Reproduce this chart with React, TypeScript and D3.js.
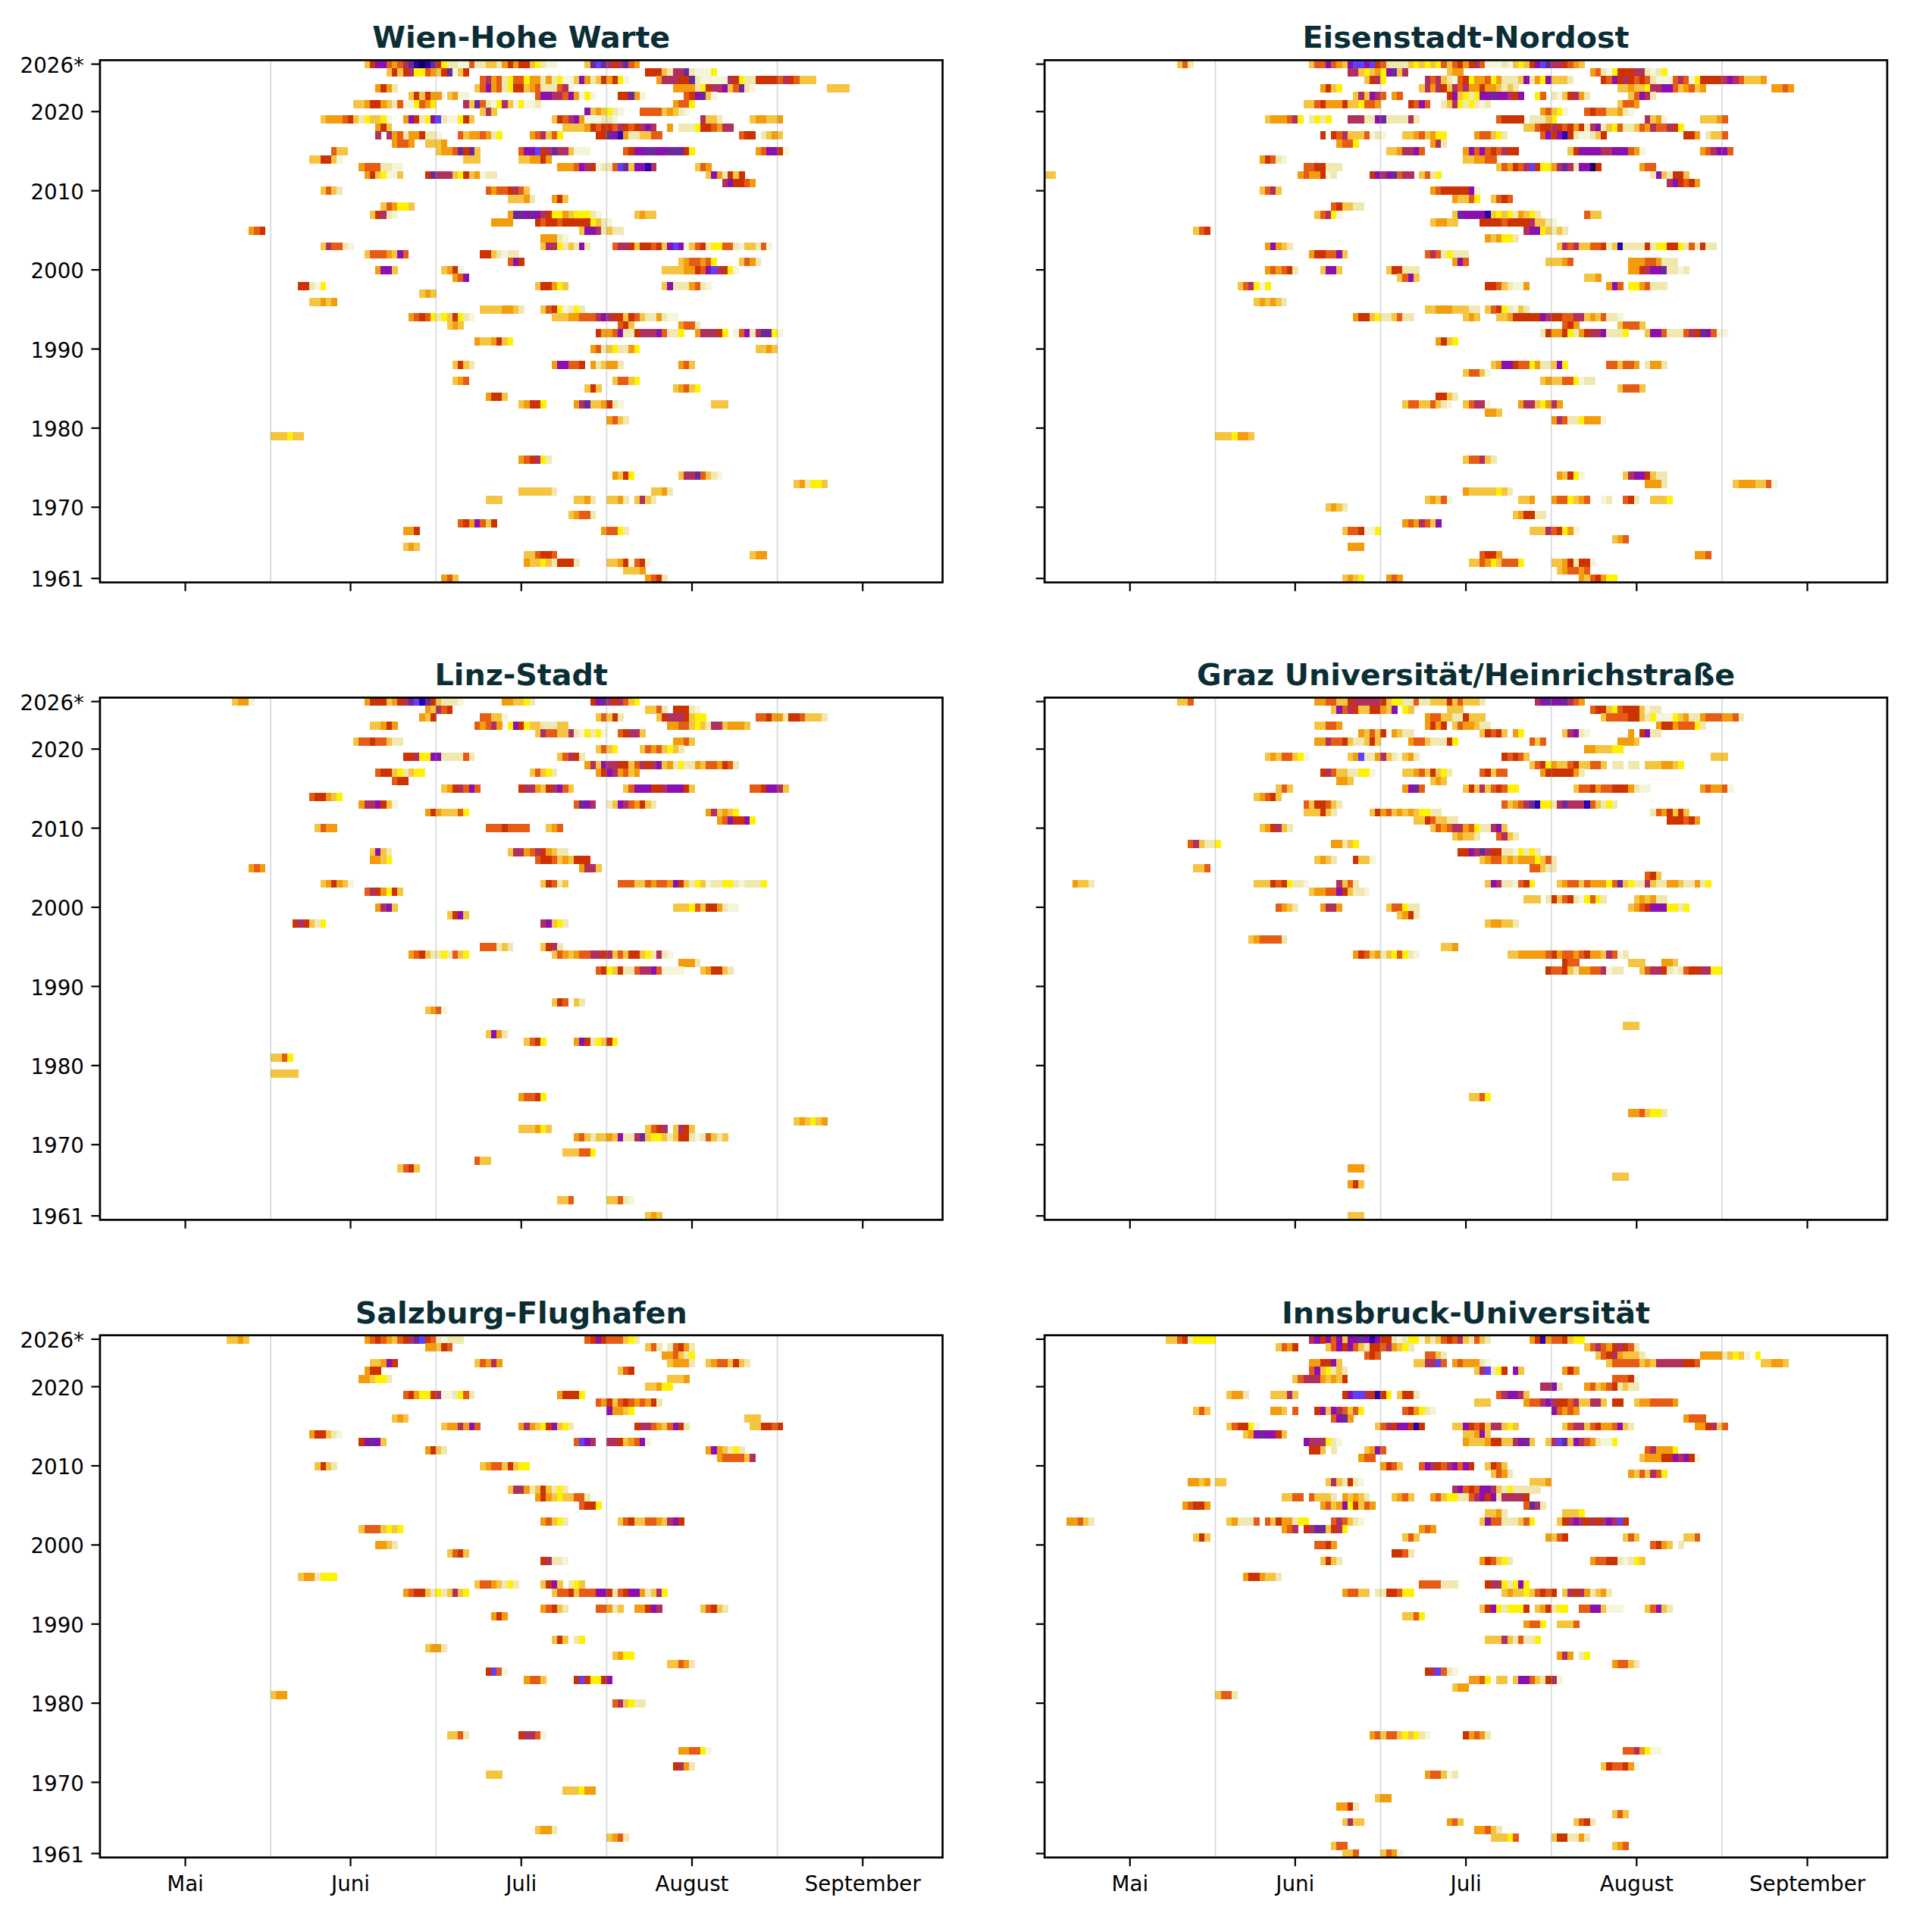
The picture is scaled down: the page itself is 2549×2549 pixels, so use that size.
import React from 'react';
import * as d3 from 'd3';

// one row of a station: [year, first day column, level per day, '.' = no cell]
type Run = [number, number, string];

const levelColors = ['#f5f5dc', '#f0e8b0', '#fff200', '#f5c542', '#f39c0e', '#e65c14', '#cc3300', '#b03060', '#8a10b0', '#6a2a9a', '#6040ff', '#2800b0', '#100060'];

const monthLabels = ['Mai', 'Juni', 'Juli', 'August', 'September'];
const monthTicks = [0, 30, 61, 92, 123];
const midMonthLines = [15.5, 45.5, 76.5, 107.5];
const yearTicks = [2026, 2020, 2010, 2000, 1990, 1980, 1970, 1961];

const wien: Run[] = [
  [2026, 33, '368854579bcb96211005113314646632100.....39a9767954'],
  [2025, 37, '363672254369036'], [2025, 84, '6663177910002'],
  [2024, 54, '574512552441412003841364620'], [2024, 86, '47776691000007621166665765333'],
  [2023, 35, '4641'], [2023, 53, '358451266345111570'], [2023, 89, '444412677835910'], [2023, 117, '3333'],
  [2022, 41, '363644.3400'], [2022, 64, '58877584020'], [2022, 79, '66940'], [2022, 91, '568930'],
  [2021, 31, '334664315002542'], [2021, 51, '73951027302001'], [2021, 89, '4552'],
  [2020, 54, '373'], [2020, 73, '8343210'], [2020, 83, '555534310'],
  [2019, 25, '3444563123320'], [2019, 40, '486128a100263'], [2019, 67, '365784000110'], [2019, 94, '7331'], [2019, 103, '344334'],
  [2018, 35, '463'], [2018, 69, '33334656657656787'], [2018, 88, '4.1112665477'],
  [2017, 35, '7.7451446110'], [2017, 50, '53445412'], [2017, 63, '457352'], [2017, 75, '6698b4113355'], [2017, 101, '566'], [2017, 105, '1343'],
  [2016, 38, '4554'], [2016, 44, '3334'],
  [2015, 27, '533'], [2015, 46, '34459693'], [2015, 61, '588a679773000'], [2015, 80, '5688998899962'], [2015, 104, '458860'],
  [2014, 23, '336630'], [2014, 51, '333'], [2014, 61, '334464'],
  [2013, 32, '45551100'], [2013, 68, '44458760115a9388b7'], [2013, 93, '354'],
  [2012, 33, '4632003'], [2012, 44, '6977732634011'], [2012, 95, '3841636'],
  [2011, 98, '786654'],
  [2010, 25, '3531'], [2010, 55, '54556753'],
  [2009, 59, '33341'], [2009, 67, '463'],
  [2008, 36, '354223'],
  [2007, 34, '36710'], [2007, 59, '49989876224322210'], [2007, 82, '3433'],
  [2006, 56, '4444'], [2006, 64, '65665666662310'],
  [2005, 12, '456'], [2005, 72, '38871311'],
  [2004, 65, '44410'],
  [2003, 25, '375510'], [2003, 65, '377213181'], [2003, 78, '57763665638a80356122551033150'],
  [2002, 33, '35554385'], [2002, 54, '6631011'],
  [2001, 59, '586'], [2001, 90, '3455452'], [2001, 101, '3541'],
  [2000, 35, '4883'], [2000, 47, '3460'], [2000, 87, '333344658a7620'],
  [1999, 49, '458'],
  [1998, 21, '66102'], [1998, 64, '366423'], [1998, 87, '381114510'],
  [1997, 43, '343'],
  [1996, 23, '33434'],
  [1995, 54, '33334431'], [1995, 65, '35620121'],
  [1994, 41, '456521236210'], [1994, 67, '33344555787663653114100'],
  [1993, 48, '343'], [1993, 79, '563'], [1993, 90, '4551'],
  [1992, 75, '6445811677785112'], [1992, 93, '477762.058179920'],
  [1991, 53, '4334632'],
  [1990, 74, '451321142'], [1990, 104, '3343'],
  [1988, 49, '3631'], [1988, 67, '488556'], [1988, 74, '413441'], [1988, 90, '453'],
  [1986, 49, '345'], [1986, 78, '35532'],
  [1985, 73, '363'], [1985, 89, '34532'],
  [1984, 55, '4663'],
  [1983, 61, '34662'], [1983, 71, '479334610'], [1983, 96, '333'],
  [1981, 77, '4531'],
  [1979, 16, '333233'],
  [1976, 61, '456721'],
  [1974, 78, '4362'], [1974, 90, '37795310'],
  [1973, 111, '341223'],
  [1972, 61, '3333331'], [1972, 85, '3341'],
  [1971, 55, '333'], [1971, 71, '3341'], [1971, 77, '3341'], [1971, 82, '3731'],
  [1969, 70, '34551'],
  [1968, 50, '5648536'],
  [1967, 40, '446'], [1967, 76, '45521'],
  [1965, 40, '343'],
  [1964, 62, '335665'], [1964, 103, '344'],
  [1963, 62, '4332316661'], [1963, 77, '33460560'],
  [1962, 80, '3334'],
  [1961, 47, '453'], [1961, 84, '4561'],
];

const eisenstadt: Run[] = [
  [2026, 9, '351'], [2026, 33, '35585438aa8a651111323232535646750001032368a9776543'],
  [2025, 40, '77323428937'], [2025, 58, '344'], [2025, 84, '45102666771012'],
  [2024, 43, '3672'], [2024, 54, '757310562445241113814283331'], [2024, 86, '658676565100057502666678753334'],
  [2023, 35, '4632'], [2023, 53, '374763757446443131'], [2023, 89, '3343327788534534'], [2023, 117, '4454'],
  [2022, 41, '373875'], [2022, 48, '45'], [2022, 58, '68321288988768..25.1036741'], [2022, 91, '35871'],
  [2021, 32, '33564446332554'], [2021, 51, '6585..137212101'], [2021, 89, '3554'],
  [2020, 75, '45320'], [2020, 83, '565533410'],
  [2019, 25, '3444572.1212'], [2019, 40, '7771189111171'], [2019, 67, '56666.11132'], [2019, 94, '7340'], [2019, 104, '33345'],
  [2018, 72, '33566765646178132511354755762'],
  [2017, 35, '6.6573335'], [2017, 44, '010'], [2017, 50, '33453422'], [2017, 63, '455321'], [2017, 75, '5868b6100136'], [2017, 101, '664'], [2017, 105, '1335'],
  [2016, 38, '4552'], [2016, 55, '471'],
  [2015, 47, '3347785'], [2015, 61, '4858565766'], [2015, 80, '36888877888540'], [2015, 104, '457885'],
  [2014, 24, '46510'], [2014, 61, '334455'],
  [2013, 32, '5566111'], [2013, 67, '354657a6224797188c6'], [2013, 93, '455'],
  [2012, -15, '33'], [2012, 31, '4544601'], [2012, 44, '68789577.3512'], [2012, 95, '1831663'],
  [2011, 98, '786564'],
  [2010, 24, '3573'], [2010, 55, '456666680'],
  [2009, 59, '43352'], [2009, 66, '3565'],
  [2008, 37, '563311'],
  [2007, 34, '35720'], [2007, 59, '398888b323214321'], [2007, 83, '533'],
  [2006, 55, '34433'], [2006, 64, '66665666673310'],
  [2005, 12, '356'], [2005, 72, '78823131'],
  [2004, 65, '434221'],
  [2003, 25, '48431'], [2003, 78, '37573355613b11116122662151611'],
  [2002, 33, '4665583'], [2002, 54, '57512111'],
  [2001, 59, '485'], [2001, 76, '33345'], [2001, 91, '444554111'],
  [2000, 25, '454561'], [2000, 35, '3883'], [2000, 47, '366111'], [2000, 91, '44678891101'],
  [1999, 49, '3583'], [1999, 83, '334'],
  [1998, 20, '357202'], [1998, 65, '66531004'], [1998, 87, '485.2245111'],
  [1996, 23, '343431'],
  [1995, 54, '3344433311'], [1995, 65, '35621031'],
  [1994, 41, '46632113511'], [1994, 61, '343'], [1994, 67, '33466666876655773435110'],
  [1993, 79, '564'], [1993, 89, '35553'],
  [1992, 75, '1644621467781112'], [1992, 94, '388511157698500'],
  [1991, 56, '4632'],
  [1988, 66, '34886552411382'], [1988, 87, '553554'], [1988, 94, '1441'],
  [1987, 61, '35530'],
  [1986, 75, '3433552011'],
  [1985, 89, '35553'],
  [1984, 56, '6631'],
  [1983, 50, '355335310'], [1983, 61, '35770'], [1983, 71, '47732474'],
  [1982, 65, '443'],
  [1981, 77, '4751124440'],
  [1979, 16, '3332443'],
  [1976, 61, '355731'],
  [1974, 78, '43620'], [1974, 90, '37886311'],
  [1973, 94, '4441'], [1973, 110, '34443350'],
  [1972, 61, '433333231'],
  [1971, 54, '34350'], [1971, 71, '334'], [1971, 77, '4552345'], [1971, 86, '01'], [1971, 90, '561'], [1971, 95, '3332'],
  [1970, 36, '3431'],
  [1969, 70, '346611'],
  [1968, 50, '4547538'],
  [1967, 39, '3556002'], [1967, 73, '333756240'],
  [1966, 88, '345'],
  [1965, 40, '444'],
  [1964, 64, '5664'], [1964, 103, '445'],
  [1963, 62, '3354235552'], [1963, 77, '33461660'],
  [1962, 78, '345545'],
  [1961, 39, '3432'], [1961, 47, '454'], [1961, 82, '4356422'],
];

const linz: Run[] = [
  [2026, 9, '3440'], [2026, 33, '466634679ab9631110'], [2026, 58, '443321'], [2026, 74, '689767532'],
  [2025, 44, '43756'], [2025, 84, '3351'], [2025, 89, '66610'],
  [2024, 43, '436'], [2024, 54, '55330'], [2024, 75, '35361'], [2024, 86, '367776322'], [2024, 104, '5564416653331'],
  [2023, 34, '33464'], [2023, 53, '54574.28623311133'], [2023, 88, '445532317734443'],
  [2022, 64, '3755337102120'], [2022, 79, '56773'],
  [2021, 31, '355655311'], [2021, 89, '4453'],
  [2020, 75, '3532'], [2020, 83, '35453231'],
  [2019, 40, '6672288111151'], [2019, 68, '35761'],
  [2018, 73, '4738776635767834121143554651'],
  [2017, 35, '566321322'], [2017, 63, '35321'], [2017, 75, '46874534'],
  [2016, 38, '566'],
  [2015, 47, '3467585'], [2015, 61, '6774367853'], [2015, 80, '3588866788863'], [2015, 103, '5568873'],
  [2014, 23, '566432'],
  [2013, 32, '4778630'], [2013, 71, '5987'], [2013, 77, '138754631'],
  [2012, 44, '46433352'], [2012, 95, '473432'],
  [2011, 97, '4586682'],
  [2010, 24, '3544'], [2010, 55, '55565555'], [2010, 66, '345'],
  [2007, 34, '3831'], [2007, 59, '37745764311'],
  [2006, 34, '4432'], [2006, 64, '5665343666'],
  [2005, 12, '454'], [2005, 72, '4773'],
  [2003, 25, '346430'], [2003, 65, '36513'], [2003, 79, '555335455486312301122101112'],
  [2002, 33, '5764263'],
  [2000, 35, '4783'], [2000, 89, '333253664100'],
  [1999, 48, '3683'],
  [1998, 20, '676312'], [1998, 65, '78321'],
  [1995, 54, '555131'], [1995, 65, '3671'],
  [1994, 41, '45631121532'], [1994, 67, '3543455776735366321710'],
  [1993, 90, '4441'],
  [1992, 75, '5623611577850000'], [1992, 94, '346631'],
  [1988, 67, '365.31'],
  [1987, 44, '3450'],
  [1984, 55, '3841'],
  [1983, 62, '3562'], [1983, 71, '48612362'],
  [1981, 16, '3352'],
  [1979, 16, '33333'],
  [1976, 61, '45562'],
  [1973, 111, '343234'],
  [1972, 61, '333423'], [1972, 84, '3567.3763'],
  [1971, 71, '4531334381179322313661015313'],
  [1969, 69, '333552'],
  [1968, 53, '533'],
  [1967, 39, '3563'],
  [1963, 68, '335'], [1963, 77, '33510'],
  [1961, 84, '343'],
];

const graz: Run[] = [
  [2026, 9, '335'], [2026, 34, '4455336777776322115113336353331'], [2026, 74, '789889754'],
  [2025, 37, '385763366438.23'], [2025, 58, '333'], [2025, 84, '5663256663011'],
  [2024, 54, '45533116333'], [2024, 86, '35555663120002341145554451'],
  [2023, 34, '33554'], [2023, 54, '4646.3544311'], [2023, 96, '466455521'],
  [2022, 42, '43536.4311'], [2022, 64, '36563.42'], [2022, 79, '37810'], [2022, 91, '4.6811'],
  [2021, 34, '447556311363'], [2021, 51, '455311162'], [2021, 73, '535'], [2021, 89, '4443'],
  [2020, 83, '4433322'],
  [2019, 25, '34355320'], [2019, 40, '34a1147310341'], [2019, 68, '65653'], [2019, 106, '333'],
  [2018, 73, '35624335633553.11.11.3334432'],
  [2017, 35, '6753311220'], [2017, 50, '334536321'], [2017, 64, '56355'], [2017, 75, '46666641'],
  [2016, 38, '443'], [2016, 55, '343'],
  [2015, 27, '353'], [2015, 50, '4895'], [2015, 61, '3637356522'], [2015, 81, '35564556664100'], [2015, 104, '454450'],
  [2014, 23, '34563'],
  [2013, 32, '5366531'], [2013, 68, '534579b22179777b53121'],
  [2012, 32, '333631'], [2012, 44, '3645343432211'], [2012, 95, '1546363'],
  [2011, 52, '33653311'], [2011, 98, '666564'],
  [2010, 24, '346731'], [2010, 55, '35457745211783'],
  [2009, 59, '34331'], [2009, 67, '5731'],
  [2008, 11, '573112'], [2008, 37, '44132'],
  [2007, 60, '668797661102121'],
  [2006, 34, '3431'], [2006, 41, '6330'], [2006, 64, '34553434442351'],
  [2005, 12, '335'], [2005, 73, '55311'],
  [2004, 94, '563'],
  [2003, -10, '4331'], [2003, 23, '3336562110'], [2003, 38, '7351'], [2003, 65, '387110562'], [2003, 78, '3455354442593211731144311412'],
  [2002, 33, '34455863110'],
  [2001, 72, '333'], [2001, 76, '16356102521'], [2001, 92, '343411'],
  [2000, 27, '5431'], [2000, 35, '4774'], [2000, 47, '355211'], [2000, 91, '34568882212'],
  [1999, 49, '3461'],
  [1998, 65, '344331'],
  [1996, 22, '3455551'],
  [1995, 57, '334'],
  [1994, 41, '465341325210'], [1994, 69, '3344444564554564437501'],
  [1993, 79, '655'], [1993, 91, '333'], [1993, 97, '443'],
  [1992, 76, '65563144557011'], [1992, 93, '357761015667722'],
  [1985, 90, '333'],
  [1976, 62, '3352'],
  [1974, 91, '4453221'],
  [1967, 40, '4440'],
  [1966, 88, '333'],
  [1965, 40, '463'],
  [1961, 40, '333'],
];

const salzburg: Run[] = [
  [2026, 8, '3343'], [2026, 33, '4565435679a6510111'], [2026, 73, '5686555321'],
  [2025, 44, '44365'], [2025, 84, '351'], [2025, 88, '15641'],
  [2024, 87, '445312'],
  [2023, 34, '33486'], [2023, 53, '35474'], [2023, 88, '34441'], [2023, 95, '34553631'],
  [2022, 33, '466'], [2022, 79, '356'],
  [2021, 32, '443221'], [2021, 88, '3334'],
  [2020, 84, '33422'],
  [2019, 40, '5642267001251'], [2019, 68, '46662'],
  [2018, 75, '546356545461'],
  [2017, 77, '84432'],
  [2016, 38, '343'], [2016, 102, '333'],
  [2015, 47, '3447485'], [2015, 61, '4743268321'], [2015, 82, '6775435861'], [2015, 103, '336656'],
  [2014, 23, '466310'],
  [2013, 32, '68983'], [2013, 71, '5a87'], [2013, 77, '77634580'],
  [2012, 44, '4631'], [2012, 95, '4843121'],
  [2011, 97, '4555537'],
  [2010, 24, '3631'], [2010, 54, '345536322'],
  [2007, 59, '37741363121'],
  [2006, 64, '4643233551'],
  [2005, 72, '5662'],
  [2003, 65, '45321'], [2003, 79, '356335543786'],
  [2002, 32, '35553232'],
  [2000, 35, '4431'],
  [1999, 48, '3563'],
  [1998, 65, '67110'],
  [1996, 21, '3441222'],
  [1995, 53, '35543121'], [1995, 65, '3683.123'],
  [1994, 40, '456631213732'], [1994, 67, '355635558861568841372'],
  [1992, 65, '45631'], [1992, 75, '55413'], [1992, 82, '44687'], [1992, 94, '35631'],
  [1991, 56, '464'],
  [1988, 67, '363.12'],
  [1987, 44, '3441'],
  [1986, 78, '3422'],
  [1985, 88, '33541'],
  [1984, 55, '6a50'],
  [1983, 62, '4553'], [1983, 71, '6a62268'],
  [1981, 16, '344'],
  [1980, 78, '573211'],
  [1976, 48, '3351'], [1976, 61, '67750'],
  [1974, 90, '445520'],
  [1972, 89, '6741'],
  [1971, 55, '333'],
  [1969, 69, '333244'],
  [1964, 64, '3441'],
  [1963, 77, '3451'],
];

const innsbruck: Run[] = [
  [2026, 7, '335612222'], [2026, 33, '78685838898b866101220313565731531'], [2026, 73, '46b4556322'],
  [2025, 27, '3546'], [2025, 36, '3586853166574321'], [2025, 83, '3575467651'],
  [2024, 43, '565'], [2024, 54, '5531'], [2024, 85, '356743331'], [2024, 104, '444413230.2'],
  [2023, 33, '446683'], [2023, 52, '3377a5'], [2023, 59, '4544410'], [2023, 87, '35555534377777665'], [2023, 115, '33443'],
  [2022, 33, '5832131'], [2022, 63, '37a126.83'], [2022, 79, '464'],
  [2021, 30, '3577743436'], [2021, 88, '55560'],
  [2020, 75, '7781'], [2020, 83, '4534561311'],
  [2019, 18, '3441'], [2019, 26, '33373'], [2019, 39, '68aa76b62.3661'], [2019, 67, '578873'],
  [2018, 63, '333'], [2018, 72, '455787665733773.66..34455554'],
  [2017, 12, '353'], [2017, 26, '443.5'], [2017, 34, '683875352'], [2017, 50, '564210'], [2017, 77, '85454'],
  [2016, 37, '5894'], [2016, 101, '4555'],
  [2015, 18, '356620'], [2015, 45, '3576886b6'], [2015, 59, '338656377323'], [2015, 79, '3577356445831'], [2015, 103, '446735'],
  [2014, 21, '34898863'], [2014, 61, '33483'],
  [2013, 32, '8777210'], [2013, 61, '4333466337893'], [2013, 76, '37a9387541002'],
  [2012, 33, '663.1'], [2012, 43, '3485'], [2012, 94, '574442'],
  [2011, 42, '455'], [2011, 93, '34446687860'],
  [2010, 46, '4653'], [2010, 53, '5876578586'], [2010, 65, '3653'],
  [2009, 66, '3541'], [2009, 91, '4353752'],
  [2008, 11, '4434.33'], [2008, 36, '3731610'], [2008, 73, '3334'],
  [2007, 59, '7856588731211111'],
  [2006, 28, '3355'], [2006, 33, '53331.43431'], [2006, 48, '3453'], [2006, 55, '453221157868177776'],
  [2005, 10, '45664'], [2005, 35, '4534826354'], [2005, 72, '5971'],
  [2004, 65, '3341'], [2004, 79, '3332'],
  [2003, -11, '44531'], [2003, 18, '341115'], [2003, 25, '53644122'], [2003, 37, '575310'], [2003, 64, '3855111352'], [2003, 78, '36787676787a6'],
  [2002, 28, '457.67993672'], [2002, 53, '454'],
  [2001, 12, '363'], [2001, 50, '353'], [2001, 76, '4356'], [2001, 90, '353'], [2001, 101, '335'],
  [2000, 34, '5564'], [2000, 95, '5643.1'],
  [1999, 48, '6651'],
  [1998, 35, '3631'], [1998, 64, '465321'], [1998, 84, '4556610123'],
  [1996, 21, '4664331'],
  [1995, 53, '5555111'], [1995, 65, '67721282'],
  [1994, 39, '45533.1166522'], [1994, 68, '3433235656.376741341'],
  [1992, 64, '368212226'], [1992, 74, '346122'], [1992, 82, '55883000'], [1992, 94, '35831'],
  [1991, 50, '3352'],
  [1990, 72, '4552'], [1990, 78, '3335'],
  [1988, 65, '3337315112'],
  [1986, 78, '474.12'],
  [1985, 88, '45531'],
  [1984, 54, '67a510'],
  [1983, 62, '4452'], [1983, 67, '33'], [1983, 70, '388531670'],
  [1982, 59, '344'],
  [1981, 16, '3551'],
  [1976, 44, '45355323210'], [1976, 61, '64541'],
  [1974, 90, '5574200'],
  [1972, 86, '3655640'],
  [1971, 54, '455301'],
  [1968, 45, '344'],
  [1967, 38, '4461'],
  [1966, 88, '353'],
  [1965, 39, '3733'], [1965, 58, '453'], [1965, 81, '3561'],
  [1964, 63, '44531'],
  [1963, 66, '33325'], [1963, 77, '3661141'],
  [1962, 37, '355'], [1962, 88, '345'],
  [1961, 39, '335'], [1961, 46, '3540'],
];

const stationNames = ['Wien-Hohe Warte', 'Eisenstadt-Nordost', 'Linz-Stadt', 'Graz Universität/Heinrichstraße', 'Salzburg-Flughafen', 'Innsbruck-Universität'];
const stationRows = [wien, eisenstadt, linz, graz, salzburg, innsbruck];

const panelLeft = [131.9, 1378.2];
const panelTop = [79.4, 920.4, 1761.7];
const panelWidth = 1111.7;
const panelHeight = 689;

const x = d3.scaleLinear().domain([-15.5, 137.5]).range([0, panelWidth]);
const y = d3.scaleLinear().domain([2026.5, 1960.5]).range([0, panelHeight]);
const color = d3.scaleOrdinal<number, string>().domain(d3.range(levelColors.length)).range(levelColors);

const FONT = '"DejaVu Sans", sans-serif';
const cellW = x(1) - x(0);
const cellH = y(0) - y(1);

const Panel = ({ index }: { index: number }) => {
  const col = index % 2;
  const row = Math.floor(index / 2);
  const cells = stationRows[index].flatMap(([year, start, levels]) =>
    Array.from(levels).map((ch, i) => ({ year, day: start + i, ch })).filter((d) => d.ch !== '.')
  );
  return (
    <g transform={`translate(${panelLeft[col]},${panelTop[row]})`}>
      <g shapeRendering="crispEdges">
        {cells.map((d, i) => (
          <rect
            key={i}
            x={x(d.day - 0.5)}
            y={y(d.year + 0.5)}
            width={cellW + 0.5}
            height={cellH + 0.5}
            fill={color(parseInt(d.ch, 16))}
          />
        ))}
      </g>
      {midMonthLines.map((d) => (
        <line key={d} x1={x(d)} x2={x(d)} y1={0} y2={panelHeight} stroke="#8a969c" strokeOpacity={0.35} strokeWidth={1.7} />
      ))}
      <rect width={panelWidth} height={panelHeight} fill="none" stroke="#000" strokeWidth={2.7} />
      {monthTicks.map((d, i) => (
        <g key={d} transform={`translate(${x(d)},${panelHeight})`}>
          <line y2={11.5} stroke="#000" strokeWidth={2.2} />
          {row === 2 && (
            <text y={44} textAnchor="middle" fontFamily={FONT} fontSize={27.7} fill="#000">
              {monthLabels[i]}
            </text>
          )}
        </g>
      ))}
      {yearTicks.map((d) => (
        <g key={d} transform={`translate(0,${y(d)})`}>
          <line x2={-11.5} stroke="#000" strokeWidth={2.2} />
          {col === 0 && (
            <text x={-21} dy="0.4em" textAnchor="end" fontFamily={FONT} fontSize={27.7} fill="#000">
              {d === 2026 ? '2026*' : d}
            </text>
          )}
        </g>
      ))}
      <text x={panelWidth / 2} y={-16} textAnchor="middle" fontFamily={FONT} fontWeight="bold" fontSize={39.7} fill="#0b2e35">
        {stationNames[index]}
      </text>
    </g>
  );
};

export default function App() {
  return (
    <svg width={2549} height={2549} style={{ position: 'absolute', left: 0, top: 0, background: '#fff' }}>
      {stationNames.map((_, i) => (
        <Panel key={i} index={i} />
      ))}
    </svg>
  );
}
